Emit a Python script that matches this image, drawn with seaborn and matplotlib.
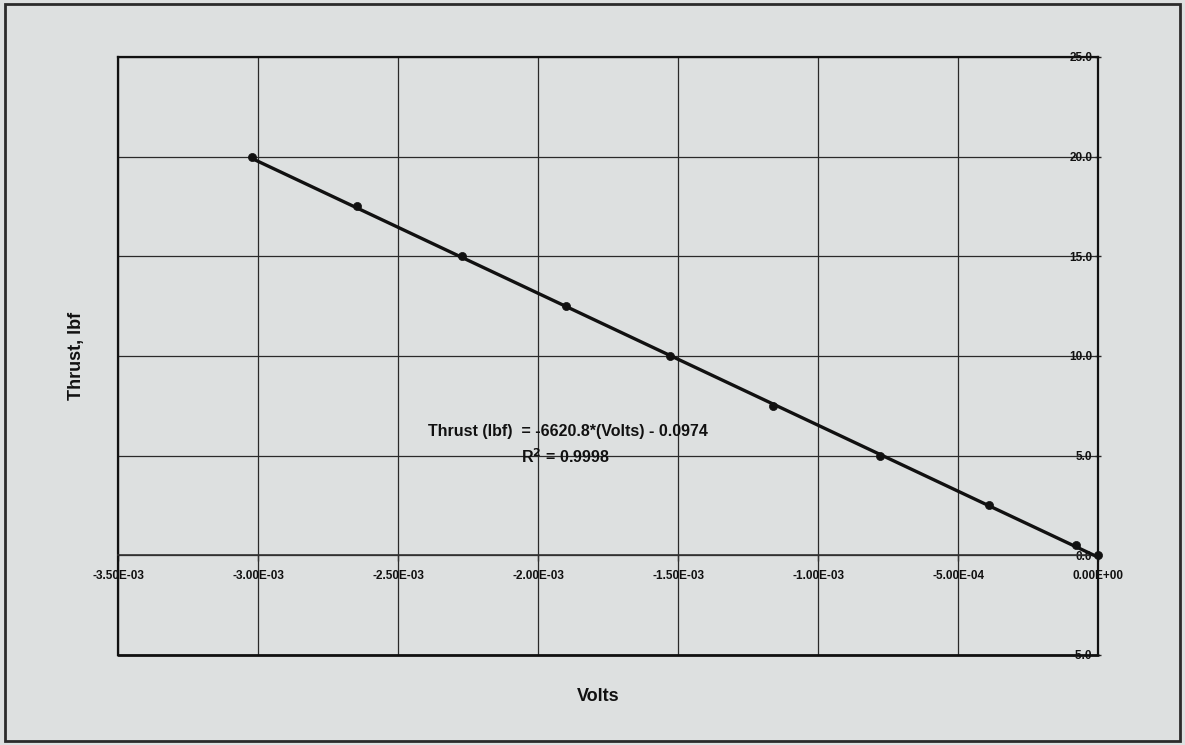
import matplotlib
matplotlib.use("Agg")
import matplotlib.pyplot as plt
import pandas as pd
import seaborn as sns
from matplotlib.patches import Rectangle
from matplotlib.ticker import FuncFormatter, FixedLocator

# Load-cell calibration: output voltage vs. applied thrust
volts = [-3.02e-3, -2.645e-3, -2.27e-3, -1.90e-3, -1.53e-3, -1.16e-3, -7.8e-4, -3.9e-4, -8.0e-5, 0.0]
thrust = [20.0, 17.5, 15.0, 12.5, 10.0, 7.5, 5.0, 2.5, 0.5, 0.0]

# Linear trendline coefficients
fit_slope = -6620.8
fit_intercept = -0.0974
r_squared = 0.9998

x_ticks = [-3.5e-3, -3.0e-3, -2.5e-3, -2.0e-3, -1.5e-3, -1.0e-3, -5.0e-4, 0.0]
y_ticks = [-5.0, 0.0, 5.0, 10.0, 15.0, 20.0, 25.0]

BG = "#dde0e0"
INK = "#111111"

sns.set_style("white", {"axes.facecolor": BG, "figure.facecolor": BG})
plt.rcParams["font.family"] = ["Liberation Sans", "DejaVu Sans"]

df = pd.DataFrame({"Volts": volts, "Thrust": thrust})
fit_x = [min(volts), max(volts)]
fit = pd.DataFrame({"Volts": fit_x, "Thrust": [fit_slope * v + fit_intercept for v in fit_x]})

fig = plt.figure(figsize=(11.85, 7.45), dpi=100, facecolor=BG)
ax = fig.add_axes([0.0996, 0.121, 0.8270, 0.8025])
ax.set_facecolor(BG)

sns.lineplot(data=fit, x="Volts", y="Thrust", ax=ax, color=INK, lw=2.4, zorder=4)
sns.scatterplot(data=df, x="Volts", y="Thrust", ax=ax, color=INK, s=34,
                edgecolor=INK, linewidth=0.5, zorder=5, clip_on=False)

ax.set_xlim(x_ticks[0], x_ticks[-1])
ax.set_ylim(y_ticks[0], y_ticks[-1])
ax.xaxis.set_major_locator(FixedLocator(x_ticks))
ax.yaxis.set_major_locator(FixedLocator(y_ticks))
ax.xaxis.set_major_formatter(FuncFormatter(lambda v, _: f"{v:.2E}"))
ax.yaxis.set_major_formatter(FuncFormatter(lambda v, _: f"{v:.1f}"))

ax.grid(True, color="#2a2a2a", lw=0.9)
ax.set_axisbelow(True)

# Horizontal axis crosses at zero thrust; vertical axis sits at zero volts
ax.spines["bottom"].set_position(("data", 0.0))
ax.spines["bottom"].set_color("#333333")
ax.spines["bottom"].set_linewidth(1.2)
for side in ("left", "right", "top"):
    ax.spines[side].set_color(INK)
    ax.spines[side].set_linewidth(1.6)
ax.axhline(y_ticks[0], color=INK, lw=2.0, zorder=3, clip_on=False)

ax.tick_params(axis="x", which="both", bottom=True, length=4, width=1, color="#333333",
               labelsize=8.5, pad=7, labelcolor=INK)
ax.yaxis.tick_right()
ax.tick_params(axis="y", which="both", right=True, left=False, length=4, width=1,
               direction="inout", labelsize=8.5, pad=-6, labelcolor=INK)
for lab in ax.get_xticklabels() + ax.get_yticklabels():
    lab.set_fontweight("bold")
for lab in ax.get_yticklabels():
    lab.set_horizontalalignment("right")

ax.yaxis.set_label_position("left")
ax.set_ylabel("Thrust, lbf", fontsize=13, fontweight="bold", labelpad=24, color=INK)
ax.set_xlabel("Volts", fontsize=13, fontweight="bold", color=INK)
ax.xaxis.set_label_coords(0.49, -0.055)

eq = f"Thrust (lbf)  = {fit_slope:.1f}*(Volts) - {abs(fit_intercept):.4f}"
ax.text(0.459, 0.373, eq, transform=ax.transAxes, ha="center", va="center",
        fontsize=11.5, fontweight="bold", color=INK, zorder=6)
ax.text(0.456, 0.331, f"R$^\\mathbf{{2}}$ = {r_squared:.4f}", transform=ax.transAxes,
        ha="center", va="center", fontsize=11.5, fontweight="bold", color=INK, zorder=6)

fig.patches.append(Rectangle((0.004, 0.006), 0.992, 0.988, transform=fig.transFigure,
                             fill=False, ec="#2b2b2b", lw=2.0))

fig.savefig("out.png", dpi=100, facecolor=BG)
